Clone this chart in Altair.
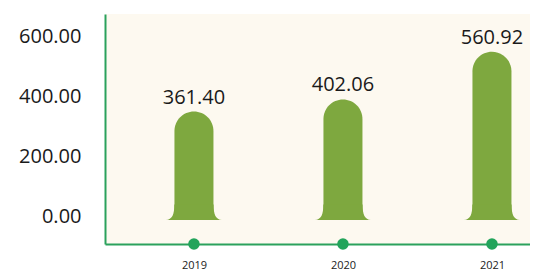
import altair as alt
import pandas as pd

years = [2019, 2020, 2021]
values = [361.40, 402.06, 560.92]
labels = ["361.40", "402.06", "560.92"]
y_ticks = [0, 200, 400, 600]

df = pd.DataFrame({"year": years, "value": values, "label": labels, "base": [-80] * 3, "zero": [0] * 3})

BAR = "#7ea83f"
AXIS_GREEN = "#2ba15c"
FONT = "Open Sans"

xscale = alt.Scale(domain=[2018.403, 2021.309], nice=False, zero=False, padding=0)
x = alt.X("year:Q", scale=xscale,
          axis=alt.Axis(values=years, format="d", title=None, grid=False, ticks=False,
                        domainColor=AXIS_GREEN, domainWidth=2, labelFont=FONT, labelFontSize=11,
                        labelColor="#222222", labelPadding=15))
yscale = alt.Scale(domain=[-80, 686.67], nice=False, zero=False, padding=0)
yaxis = alt.Axis(values=y_ticks, format=".2f", title=None, grid=False, ticks=False,
                 domainColor=AXIS_GREEN, domainWidth=2, labelFont=FONT, labelFontSize=20,
                 labelColor="#1a1a1a", labelPadding=24, labelBaseline="alphabetic", labelOffset=2)

base = alt.Chart(df)

bars = base.mark_bar(width=39, color=BAR, cornerRadiusTopLeft=19.5, cornerRadiusTopRight=19.5).encode(
    x=x,
    y=alt.Y("zero:Q", scale=yscale, axis=yaxis),
    y2="value:Q",
)

foot_path = "M-1,0 C-0.78,0 -0.7,-0.2 -0.7,-0.55 L0.7,-0.55 C0.7,-0.2 0.78,0 1,0 Z"
feet = base.mark_point(shape=foot_path, filled=True, size=3136, color=BAR, opacity=1, strokeWidth=0).encode(
    x=alt.X("year:Q", scale=xscale), y=alt.Y("zero:Q", scale=yscale)
)

text = base.mark_text(font=FONT, fontSize=20, color="#1a1a1a", baseline="alphabetic", dy=-8).encode(
    x=alt.X("year:Q", scale=xscale), y=alt.Y("value:Q", scale=yscale), text="label:N"
)

dots = base.mark_circle(size=133, color="#22a45b", opacity=1).encode(
    x=alt.X("year:Q", scale=xscale), y=alt.Y("base:Q", scale=yscale)
)

chart = alt.layer(bars, feet, text, dots).properties(
    width=433, height=230,
    autosize=alt.AutoSizeParams(type="none"),
    padding={"left": 97, "top": 6, "right": -8, "bottom": 30},
    background="white",
).configure_view(fill="#fdf9f0", stroke=None)

chart.save("out.html", embed_options={"renderer": "svg", "actions": False})
